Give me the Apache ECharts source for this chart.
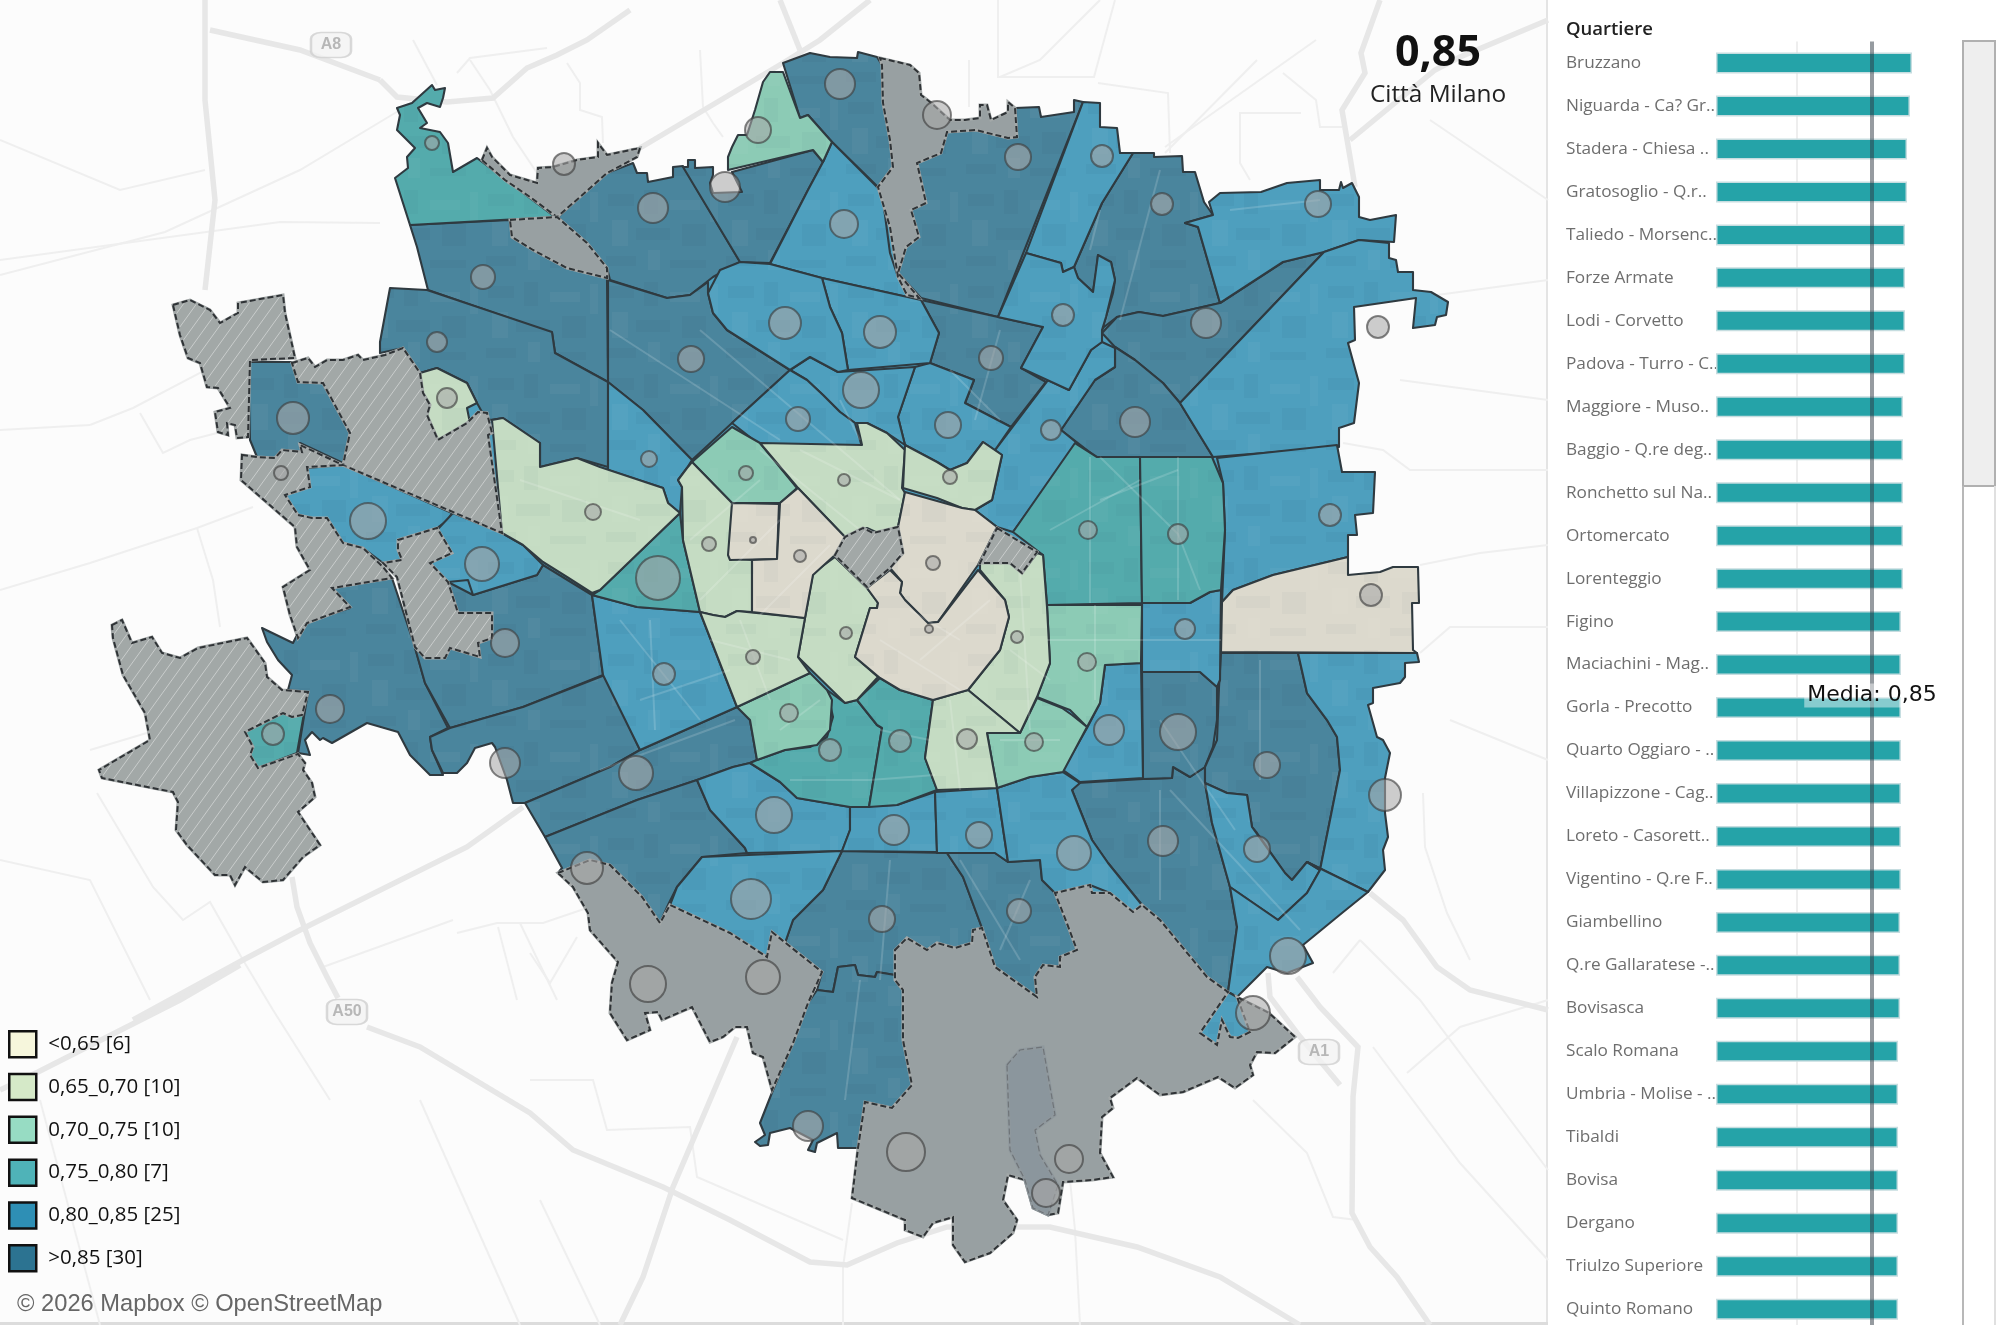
<!DOCTYPE html>
<html><head><meta charset="utf-8">
<style>html,body{margin:0;padding:0;background:#fff;overflow:hidden;width:2000px;height:1325px}#w{width:2000px;height:1325px;overflow:hidden}#c{width:2000px;height:1400px}</style>
<script src="https://cdn.jsdelivr.net/npm/echarts@6/dist/echarts.min.js"></script>
</head><body><div id="w"><div id="c"></div></div>
<script>
// ---------- bar panel data ----------
const quartieri=["Bruzzano","Niguarda - Ca? Gr..","Stadera - Chiesa ..","Gratosoglio - Q.r..","Taliedo - Morsenc..","Forze Armate","Lodi - Corvetto","Padova - Turro - C..","Maggiore - Muso..","Baggio - Q.re deg..","Ronchetto sul Na..","Ortomercato","Lorenteggio","Figino","Maciachini - Mag..","Gorla - Precotto","Quarto Oggiaro - ..","Villapizzone - Cag..","Loreto - Casorett..","Vigentino - Q.re F..","Giambellino","Q.re Gallaratese -..","Bovisasca","Scalo Romana","Umbria - Molise - ..","Tibaldi","Bovisa","Dergano","Triulzo Superiore","Quinto Romano"];
const valori=[1.068,1.057,1.041,1.041,1.030,1.030,1.030,1.030,1.019,1.019,1.019,1.019,1.019,1.008,1.008,1.008,1.008,1.008,1.008,1.008,1.003,1.003,1.003,0.992,0.992,0.992,0.992,0.992,0.992,0.992];
const media=0.85, griglia=0.436;
const legendLabels=["<0,65 [6]","0,65_0,70 [10]","0,70_0,75 [10]","0,75_0,80 [7]","0,80_0,85 [25]",">0,85 [30]"];
const legendColors=["#f6f6dc","#d5e9c8","#97dcc3","#4fb3b8","#2e8fb5","#2c7391"];
const mapColors=["#dcd9cd","#c5dcc3","#8ccbb5","#54abac","#4e9fbe","#4a859d"];

// ---------- map geometry (map coordinates) ----------
const cityBase=[[[560,230],[1000,150],[1270,270],[1330,450],[1320,870],[1050,960],[880,950],[620,850],[450,700],[400,500],[450,320]]];
const cls0=[
[[732,503],[779,504],[777,559],[730,560],[728,555]],
[[780,503],[798,488],[845,537],[835,555],[813,575],[805,618],[752,612],[752,560],[777,559]],
[[905,492],[962,508],[975,510],[997,527],[978,565],[938,622],[928,623],[905,600],[900,593],[902,582],[890,568],[903,553],[898,527]],
[[890,570],[902,582],[900,593],[905,600],[928,623],[938,622],[978,570],[1005,600],[1009,617],[1000,650],[968,690],[933,700],[900,690],[880,678],[855,657],[870,608],[877,608],[878,603],[867,588]],
[[1222,602],[1233,590],[1273,575],[1348,557],[1348,575],[1380,572],[1393,567],[1418,567],[1419,603],[1412,603],[1413,650],[1417,653],[1221,652]]
];
const cls1=[
[[492,420],[503,418],[540,443],[540,467],[577,458],[600,467],[663,488],[668,503],[680,513],[600,590],[592,593],[567,577],[543,562],[523,545],[502,533]],
[[420,373],[437,368],[467,383],[477,403],[467,408],[470,423],[438,440],[427,415],[430,405],[423,393]],
[[760,443],[862,445],[857,423],[867,423],[887,433],[905,450],[902,488],[905,493],[898,527],[878,533],[867,528],[845,537],[798,488]],
[[692,462],[732,503],[732,558],[752,560],[752,612],[737,611],[725,617],[713,615],[700,612],[683,540],[682,487],[678,480],[687,468]],
[[905,445],[937,462],[950,470],[967,463],[983,442],[1002,455],[992,500],[975,510],[962,508],[937,498],[903,488]],
[[835,557],[867,588],[878,603],[877,608],[870,608],[855,657],[878,677],[857,700],[845,703],[798,657],[813,573]],
[[980,570],[980,563],[1010,563],[1022,573],[1037,553],[1043,555],[1047,607],[1050,663],[1037,697],[1020,733],[968,690],[1000,650],[1009,617],[1005,600]],
[[700,612],[713,615],[725,617],[737,611],[805,618],[798,657],[810,673],[737,707]],
[[933,700],[968,690],[1020,733],[987,733],[997,788],[937,790],[925,758]]
];
const cls2=[
[[728,170],[728,157],[732,147],[738,135],[747,135],[755,110],[763,82],[770,72],[783,72],[800,118],[808,115],[832,142],[823,162],[813,150]],
[[692,462],[732,427],[760,443],[797,488],[780,503],[732,503]],
[[1047,605],[1142,605],[1141,663],[1105,665],[1100,703],[1087,727],[1070,710],[1062,707],[1037,697],[1050,663]],
[[810,673],[737,707],[750,720],[757,760],[785,750],[817,745],[830,730],[832,700],[827,690]],
[[987,733],[1020,733],[1037,698],[1062,708],[1072,715],[1087,727],[1063,772],[1030,777],[997,788]]
];
const cls3=[
[[397,108],[412,103],[432,85],[435,90],[445,88],[443,98],[440,107],[427,103],[418,108],[427,123],[420,128],[440,132],[448,143],[453,172],[477,158],[555,217],[410,225],[395,178],[408,168],[407,157],[415,148],[397,130],[400,115]],
[[680,513],[683,540],[700,612],[637,607],[592,595],[600,590]],
[[1075,443],[1097,457],[1140,457],[1142,603],[1047,605],[1043,555],[1013,532]],
[[1140,457],[1212,457],[1223,483],[1225,530],[1221,590],[1210,592],[1190,603],[1142,603]],
[[757,760],[785,750],[810,747],[827,737],[833,717],[827,690],[845,703],[857,700],[877,725],[882,728],[869,807],[850,807],[797,798],[780,782],[750,763]],
[[857,700],[880,678],[900,690],[933,700],[925,758],[937,790],[897,805],[869,807],[882,728],[877,725]],
[[245,732],[283,713],[292,717],[305,708],[297,753],[258,768],[250,755],[253,747]]
];
const cls4=[
[[832,142],[878,188],[883,200],[890,253],[898,277],[921,300],[822,278],[770,264],[808,190],[823,162]],
[[1083,102],[1100,103],[1100,127],[1117,128],[1120,153],[1133,153],[1102,203],[1074,267],[1063,272],[1061,263],[1026,253]],
[[1220,193],[1261,192],[1287,183],[1320,180],[1320,190],[1339,190],[1341,182],[1343,188],[1352,183],[1359,197],[1359,217],[1370,220],[1396,215],[1394,242],[1359,240],[1324,252],[1283,262],[1220,303],[1198,227],[1185,223],[1213,215],[1209,202]],
[[1324,252],[1359,240],[1389,243],[1389,258],[1396,260],[1398,272],[1413,272],[1413,290],[1431,292],[1448,302],[1446,315],[1437,317],[1435,325],[1413,328],[1416,298],[1354,307],[1355,340],[1348,343],[1359,383],[1354,423],[1339,428],[1339,447],[1213,457],[1180,403]],
[[1048,380],[1069,390],[1091,350],[1102,342],[1115,348],[1115,367],[1095,380],[1061,430],[1077,443],[1013,532],[997,527],[975,510],[992,500],[1002,455],[995,450]],
[[915,367],[930,363],[974,380],[965,403],[1011,427],[995,450],[983,442],[967,463],[950,470],[937,462],[905,445],[900,425],[898,417]],
[[1026,253],[1061,263],[1063,272],[1074,267],[1078,278],[1093,292],[1098,255],[1111,262],[1115,280],[1106,317],[1102,330],[1102,342],[1091,350],[1069,390],[1021,368],[1043,327],[998,317]],
[[822,278],[921,300],[939,333],[930,363],[848,370],[842,333],[830,307]],
[[790,370],[810,357],[838,372],[915,367],[898,417],[900,425],[905,445],[887,433],[867,423],[855,423],[840,412],[823,395],[807,380]],
[[740,262],[720,270],[708,293],[713,313],[727,330],[790,370],[810,357],[838,372],[848,370],[842,333],[830,307],[822,278],[770,264]],
[[790,370],[732,423],[760,445],[862,447],[855,423],[840,412],[823,395],[807,380]],
[[608,382],[643,410],[692,460],[687,468],[678,480],[682,487],[680,513],[668,503],[663,488],[608,470]],
[[592,595],[637,607],[700,612],[737,707],[640,750],[603,675]],
[[697,780],[733,767],[750,763],[780,782],[797,798],[850,807],[850,830],[842,851],[747,853],[745,848],[710,810]],
[[850,807],[897,805],[935,792],[937,852],[842,851],[850,830]],
[[935,792],[997,788],[1008,862],[995,853],[937,853]],
[[702,857],[842,851],[823,890],[793,920],[785,943],[772,932],[767,957],[730,933],[670,905],[677,887]],
[[997,788],[1030,777],[1063,772],[1080,783],[1072,790],[1092,840],[1108,863],[1142,905],[1133,912],[1110,893],[1090,885],[1055,893],[1042,880],[1040,860],[1008,862]],
[[1105,665],[1141,663],[1143,778],[1080,782],[1063,770],[1087,728],[1100,703]],
[[1142,603],[1190,603],[1210,592],[1221,590],[1220,680],[1217,687],[1200,672],[1142,672]],
[[1217,458],[1337,445],[1342,472],[1375,472],[1373,513],[1355,515],[1357,535],[1348,535],[1348,557],[1273,575],[1233,590],[1222,602],[1225,530],[1223,483]],
[[1298,653],[1417,653],[1419,662],[1405,663],[1405,677],[1400,683],[1373,688],[1373,703],[1368,705],[1377,737],[1383,740],[1390,753],[1385,778],[1385,813],[1388,837],[1383,850],[1385,870],[1368,892],[1307,862],[1320,870],[1338,780],[1340,770],[1337,737],[1327,720],[1307,693]],
[[1205,783],[1227,793],[1247,795],[1252,827],[1285,873],[1292,880],[1307,862],[1320,870],[1307,893],[1278,920],[1230,887],[1212,823]],
[[1230,887],[1278,920],[1307,893],[1320,870],[1307,862],[1368,892],[1342,913],[1303,945],[1313,963],[1287,973],[1267,967],[1237,997],[1228,992],[1237,927]],
[[1228,992],[1237,997],[1269,1013],[1250,1032],[1238,1038],[1230,1037],[1222,1020],[1217,1045],[1200,1033]],
[[307,468],[343,465],[452,513],[448,520],[437,528],[400,540],[398,550],[402,560],[383,563],[363,548],[343,543],[327,518],[312,518],[298,515],[285,495],[310,487]],
[[453,513],[502,533],[523,545],[543,565],[537,575],[473,595],[468,580],[448,582],[430,563],[452,553],[437,530]]
];
const cls5=[
[[558,217],[580,197],[607,173],[633,163],[637,173],[647,173],[648,182],[673,177],[673,167],[683,166],[740,262],[713,277],[690,295],[667,298],[610,280],[607,268]],
[[683,167],[688,167],[688,160],[695,160],[695,168],[713,167],[713,175],[710,183],[713,193],[742,192],[732,172],[813,150],[823,162],[808,190],[770,263],[740,262]],
[[783,63],[810,53],[830,57],[857,58],[858,52],[877,57],[882,65],[883,103],[890,140],[893,167],[878,187],[832,142],[808,115],[800,118]],
[[947,132],[976,130],[1008,138],[1017,137],[1015,108],[1039,107],[1041,117],[1074,112],[1074,100],[1083,102],[998,317],[921,298],[898,273],[906,247],[919,237],[911,210],[926,203],[917,163],[941,153]],
[[1133,153],[1154,153],[1154,157],[1182,156],[1183,172],[1195,172],[1204,202],[1213,215],[1185,223],[1198,227],[1220,303],[1163,316],[1139,312],[1117,317],[1104,327],[1102,330],[1113,293],[1115,280],[1111,262],[1102,262],[1098,255],[1096,273],[1093,292],[1078,278],[1074,267],[1102,203]],
[[1220,303],[1283,262],[1324,252],[1180,403],[1163,383],[1135,360],[1115,347],[1102,333],[1117,317],[1139,312],[1163,316]],
[[1115,367],[1095,380],[1061,430],[1096,457],[1213,457],[1180,403],[1163,383],[1135,360],[1115,347]],
[[921,300],[998,317],[1043,327],[1021,368],[1046,382],[1011,427],[965,403],[974,380],[930,363],[939,333]],
[[608,280],[667,298],[690,295],[708,282],[708,293],[713,313],[727,330],[790,370],[732,423],[692,460],[643,410],[608,382]],
[[410,225],[510,220],[512,237],[533,250],[567,268],[607,278],[608,382],[555,353],[552,333],[428,290],[417,247]],
[[390,288],[427,290],[552,332],[555,353],[608,382],[608,467],[577,458],[540,467],[540,443],[503,418],[490,420],[482,412],[477,403],[467,383],[437,368],[420,373],[403,348],[380,353],[380,342]],
[[248,362],[292,362],[298,382],[323,383],[350,433],[343,463],[300,443],[302,452],[282,450],[275,458],[257,457],[250,440]],
[[262,628],[293,643],[303,623],[350,608],[332,588],[392,578],[415,647],[425,683],[448,728],[430,737],[432,750],[443,775],[430,775],[410,755],[398,732],[367,723],[332,743],[323,738],[320,740],[312,732],[305,740],[310,755],[298,753],[308,692],[288,690],[292,675],[278,660],[267,642]],
[[448,582],[473,595],[537,575],[543,565],[592,595],[603,675],[523,707],[450,728],[425,683],[415,648],[425,658],[445,658],[450,648],[480,657],[478,643],[492,638],[492,613],[458,613]],
[[430,737],[450,728],[523,707],[605,675],[640,750],[610,767],[525,803],[513,803],[507,780],[495,747],[492,743],[475,748],[467,763],[457,773],[443,773],[432,750]],
[[525,803],[610,767],[640,750],[737,707],[750,720],[757,760],[750,763],[733,767],[697,780],[637,800],[545,837]],
[[545,837],[637,800],[697,780],[710,810],[745,848],[747,853],[702,857],[677,887],[668,905],[660,923],[642,897],[610,865],[590,860],[558,873],[562,868]],
[[842,851],[947,853],[963,877],[982,928],[973,930],[972,943],[955,948],[937,943],[927,950],[907,938],[895,950],[895,975],[877,972],[875,977],[858,975],[855,965],[838,967],[833,992],[817,990],[822,972],[785,943],[793,920],[823,890]],
[[817,990],[833,992],[838,967],[855,965],[858,975],[875,977],[877,972],[895,975],[897,983],[903,990],[903,1040],[912,1085],[892,1108],[865,1102],[858,1148],[838,1148],[837,1133],[817,1143],[815,1152],[808,1150],[813,1140],[790,1128],[770,1133],[768,1145],[760,1146],[755,1142],[765,1135],[760,1123],[773,1090],[793,1043],[808,1003]],
[[947,853],[995,853],[1008,862],[1040,860],[1042,880],[1055,893],[1063,913],[1077,950],[1060,957],[1060,967],[1043,965],[1035,977],[1037,997],[995,967],[982,928],[963,877]],
[[1072,790],[1078,783],[1143,779],[1172,778],[1173,767],[1190,777],[1205,767],[1205,783],[1212,823],[1230,887],[1237,927],[1228,992],[1207,977],[1160,920],[1142,905],[1108,863],[1092,840]],
[[1142,672],[1200,672],[1217,687],[1217,720],[1213,747],[1205,767],[1190,777],[1173,767],[1172,778],[1143,779]],
[[1221,653],[1298,653],[1307,693],[1327,720],[1337,737],[1340,770],[1338,780],[1320,870],[1307,862],[1292,880],[1285,873],[1257,833],[1252,827],[1247,795],[1227,793],[1205,783],[1205,767],[1217,740],[1219,687]]
];
const grayHatched=[
[[173,305],[190,300],[210,310],[220,323],[238,313],[238,303],[283,295],[285,313],[295,358],[250,360],[248,437],[237,438],[235,425],[227,423],[228,435],[218,432],[215,412],[230,408],[218,388],[207,387],[200,363],[188,358],[180,335]],
[[292,363],[308,358],[315,367],[327,360],[343,360],[358,355],[363,360],[385,355],[403,348],[420,373],[423,393],[430,405],[427,415],[438,440],[467,423],[478,412],[487,413],[492,433],[488,435],[502,533],[343,465],[350,433],[323,383],[298,382]],
[[242,455],[257,457],[275,458],[282,450],[302,452],[300,445],[343,465],[307,467],[310,487],[285,495],[298,515],[312,518],[327,518],[343,543],[363,548],[383,567],[392,578],[332,588],[350,607],[307,623],[298,638],[290,615],[283,587],[310,570],[297,547],[295,527],[241,480]],
[[398,540],[437,528],[452,553],[430,563],[448,582],[458,613],[492,613],[492,638],[478,643],[480,657],[450,648],[445,658],[425,658],[415,647],[397,577],[383,563],[402,560],[398,550]],
[[112,625],[122,620],[132,643],[152,637],[162,653],[180,658],[198,648],[247,638],[265,663],[267,677],[282,690],[308,692],[302,715],[292,717],[283,713],[245,732],[253,747],[250,755],[258,768],[298,754],[305,763],[303,770],[312,783],[315,797],[298,812],[320,845],[303,857],[283,880],[263,882],[245,867],[235,885],[230,875],[215,875],[187,845],[176,830],[178,802],[173,792],[102,778],[99,770],[150,740],[145,713],[123,675],[113,638]],
[[835,555],[845,537],[863,528],[873,533],[898,527],[903,553],[890,568],[867,587]],
[[997,528],[1037,552],[1022,573],[1010,563],[980,563]]
];
const graySolid=[
[[482,160],[487,148],[492,157],[510,175],[537,183],[538,168],[553,167],[577,160],[598,157],[598,143],[607,155],[640,148],[637,157],[607,173],[580,197],[557,217],[530,197],[505,180]],
[[510,220],[557,217],[587,243],[607,268],[607,278],[567,268],[533,250],[512,237]],
[[880,58],[910,65],[919,73],[921,95],[930,102],[950,120],[965,120],[980,118],[980,105],[987,105],[991,120],[1008,112],[1008,102],[1015,108],[1017,137],[1008,138],[976,130],[947,132],[941,153],[917,163],[926,203],[911,210],[919,237],[906,247],[898,273],[919,298],[907,295],[898,277],[890,227],[878,187],[893,167],[890,140],[883,103],[882,65]],
[[558,873],[590,860],[610,865],[642,897],[660,923],[670,905],[730,933],[767,957],[772,932],[822,972],[808,1003],[793,1043],[772,1090],[763,1057],[753,1053],[747,1027],[735,1027],[723,1037],[710,1042],[692,1007],[662,1020],[658,1012],[645,1013],[650,1030],[627,1040],[610,1013],[612,983],[618,962],[590,930],[588,913],[573,887]],
[[895,950],[907,938],[927,950],[937,943],[955,948],[972,943],[973,930],[982,928],[995,967],[1037,997],[1035,977],[1043,965],[1060,967],[1060,957],[1077,950],[1063,913],[1055,893],[1090,885],[1092,893],[1110,893],[1133,912],[1142,905],[1160,920],[1207,977],[1228,992],[1200,1033],[1217,1045],[1222,1020],[1230,1037],[1238,1038],[1250,1032],[1237,997],[1269,1013],[1295,1037],[1275,1053],[1257,1052],[1250,1065],[1253,1075],[1235,1088],[1218,1077],[1183,1092],[1160,1095],[1137,1078],[1110,1098],[1113,1108],[1102,1117],[1100,1153],[1113,1177],[1092,1180],[1063,1182],[1058,1213],[1048,1215],[1033,1208],[1025,1180],[1008,1175],[1003,1200],[1017,1220],[1013,1233],[990,1253],[965,1262],[953,1245],[953,1217],[933,1223],[923,1237],[905,1230],[905,1220],[852,1198],[858,1148],[865,1102],[892,1108],[912,1085],[903,1040],[903,990],[895,980]]
];
const grayInset=[[[1007,1065],[1020,1050],[1043,1047],[1055,1115],[1035,1130],[1040,1155],[1058,1185],[1048,1215],[1033,1208],[1025,1180],[1010,1150]]];
const roadsMajor=[
[[380,80],[397,97],[447,102],[493,98],[527,68],[557,55],[587,40],[630,10]],
[[210,30],[300,50],[380,80]],
[[205,0],[205,100],[215,200],[205,290]],
[[640,148],[783,63],[820,40],[870,0]],
[[780,0],[800,50]],
[[1380,0],[1361,53],[1365,73],[1342,110],[1350,157],[1355,187]],
[[1350,140],[1390,107],[1435,70],[1460,57],[1548,20]],
[[292,877],[297,907],[310,943],[327,977],[338,998]],
[[367,1027],[420,1047],[530,1113],[573,1150],[663,1187],[730,1220],[810,1262],[847,1265],[897,1243],[947,1227],[1050,1227],[1137,1247],[1220,1277],[1300,1325]],
[[737,1037],[673,1187],[643,1277],[620,1325]],
[[1268,973],[1270,997],[1297,1033],[1340,1085]],
[[1297,977],[1320,1007],[1358,1047],[1353,1097],[1352,1213],[1370,1247],[1397,1277],[1430,1325]],
[[1370,893],[1403,920],[1437,967],[1470,990],[1548,1010]],
[[133,1020],[243,960],[300,930],[467,847],[523,807]],
[[0,1090],[38,1072],[180,1000],[240,965]]
];
const roadsMinor=[
[[0,275],[165,232],[300,170],[400,110]],[[90,425],[133,408],[200,373],[255,340]],
[[0,140],[120,190],[205,170]],[[413,40],[437,85]],[[470,60],[490,90],[513,137],[537,173]],[[457,73],[470,58],[547,48]],
[[567,63],[580,83],[580,110],[602,117],[603,143]],[[700,50],[703,107],[713,123],[723,137]],[[998,0],[998,77],[1094,77],[1115,0]],
[[969,60],[969,107]],[[1098,83],[1168,93],[1170,153]],[[1316,40],[1165,147]],[[1257,60],[1165,153]],[[1239,113],[1301,113]],[[1240,113],[1240,163],[1250,180]],
[[1283,73],[1316,100],[1320,127],[1342,127]],[[1343,443],[1383,450],[1410,470],[1548,470]],[[1420,653],[1450,627],[1548,627]],[[1420,565],[1480,553],[1548,545]],
[[1423,793],[1425,847],[1447,913],[1470,960]],[[1360,940],[1333,973]],[[1360,940],[1420,1000],[1548,1170]],[[1253,1100],[1307,1153],[1333,1217],[1357,1220]],
[[1407,1073],[1460,1027],[1548,1000]],[[1373,1047],[1460,1163],[1548,1260]],[[1075,1230],[1080,1325]],[[1070,1180],[1075,1230]],
[[90,750],[150,732]],[[97,793],[153,887],[183,920],[210,902],[243,960],[273,1010],[330,1100]],[[457,933],[497,923],[543,923],[590,907]],[[323,967],[453,920]],
[[498,927],[517,1000]],[[520,923],[557,1000]],[[0,590],[90,563],[197,528],[253,507]],[[197,528],[213,580],[220,627]],[[140,413],[163,453],[190,440],[217,433]],
[[530,1080],[593,1080],[607,1130],[690,1127],[697,1177],[843,1240]],[[530,953],[550,983],[577,937]],[[843,1325],[843,1267],[852,1203]],[[0,430],[90,425]],[[380,223],[280,222],[0,260]],
[[1400,300],[1548,280]],[[1400,380],[1548,400]],[[1430,120],[1548,200]],[[1450,720],[1548,760]],[[0,860],[90,880],[150,1000]],[[40,1100],[100,1325]],[[420,1100],[520,1325]],[[540,1200],[600,1325]],[[1100,0],[1040,60],[1000,77]]
];
const streets=[
[[1100,457],[1178,534],[1200,590]],[[1100,500],[1178,470]],[[1178,457],[1178,600]],[[1050,530],[1140,480]],[[1090,457],[1090,603]],[[1142,640],[1221,640]],
[[1047,640],[1142,640]],[[1095,605],[1095,700]],[[690,540],[760,480]],[[700,600],[780,520]],[[760,615],[830,545]],[[760,450],[860,530]],[[800,450],[900,500]],[[710,640],[790,660]],
[[740,620],[770,700]],[[910,610],[960,640]],[[920,660],[990,600]],[[880,640],[960,690]],[[1020,570],[1030,730]],[[1010,650],[1050,680]],[[950,700],[960,790]],[[1000,740],[1060,740]],
[[780,730],[820,700]],[[880,730],[930,740]],[[790,780],[870,780]],[[870,780],[935,775]],[[600,770],[735,720]],[[620,620],[700,720]],[[650,620],[655,730]],[[640,700],[730,670]],
[[520,480],[640,520]],[[1160,720],[1235,830]],[[1170,790],[1300,930]],[[1160,790],[1160,900]],[[1260,660],[1260,780]],[[700,330],[900,500]],[[610,330],[780,440]],[[960,860],[1020,960]],
[[1000,950],[1030,880]],[[890,860],[880,980]],[[860,980],[845,1100]],[[1100,210],[1090,250]],[[1230,210],[1320,200]],[[1160,170],[1120,320]],[[1000,330],[975,420]],[[950,370],[1000,420]],[[840,400],[860,440]]
];
const bubbles=[
[653,208,15],[725,187,15],[840,84,15],[758,130,13],[564,164,11],[432,143,7],[483,277,12],[437,342,10],[447,398,10],[691,359,13],[785,323,16],[844,224,14],[880,332,16],[861,390,18],[798,419,12],
[937,115,14],[1018,157,13],[1102,156,11],[1162,204,11],[1318,204,13],[1378,327,11],[1063,315,11],[991,358,12],[1206,323,15],[1135,422,15],[948,425,13],[1051,430,10],
[293,418,16],[281,473,7],[593,512,8],[368,521,18],[482,564,17],[505,643,14],[330,709,14],[273,734,11],[505,763,15],[587,868,16],
[774,815,18],[894,830,15],[979,835,13],[751,899,20],[882,919,13],[1019,911,12],[648,984,18],[763,977,17],[906,1152,19],[808,1126,15],
[1069,1159,14],[1046,1193,14],[1288,956,18],[1253,1013,17],[1257,849,13],[1163,841,15],[1074,853,17],[1385,795,16],
[1330,515,11],[1371,595,11],[1088,530,9],[1178,534,10],[1185,629,10],[1087,662,9],[1109,730,15],[1178,732,18],[1267,765,13],
[649,459,8],[746,473,7],[844,480,6],[950,477,7],[709,544,7],[753,540,3],[800,556,6],[933,563,7],[658,578,22],[929,629,4],[846,633,6],[1017,637,6],[664,674,11],[753,657,7],[789,713,9],[830,750,11],[900,741,11],[967,739,10],[1034,742,9],[636,773,17]
];
const shields=[[331,45,"A8"],[347,1012,"A50"],[1319,1052,"A1"]];
// soft basemap blocks shown through the fills: [x,y,w,h,dark?]
const basemapBlocks=[[8,10,26,12,1],[44,6,14,24,1],[70,16,30,10,0],[12,36,16,26,0],[36,44,34,12,1],[82,40,24,22,1],[6,72,30,10,1],[48,66,12,20,0],[70,76,36,8,1],[110,8,8,30,0]];

// ---------- helpers ----------
function hatch(base){
  const w=13,h=18,c=document.createElement('canvas');c.width=w;c.height=h;
  const g=c.getContext('2d');g.fillStyle=base;g.fillRect(0,0,w,h);
  g.strokeStyle='rgba(255,255,255,.42)';g.lineWidth=1;
  g.beginPath();g.moveTo(0,h);g.lineTo(w,0);g.moveTo(-w,h);g.lineTo(0,0);g.moveTo(w,h);g.lineTo(2*w,0);g.stroke();
  return {type:'pattern',image:c,repeat:'repeat'};
}
function mottle(base,alpha){
  const c=document.createElement('canvas');c.width=120;c.height=92;
  const g=c.getContext('2d');g.fillStyle=base;g.fillRect(0,0,120,92);
  basemapBlocks.forEach(b=>{g.fillStyle=b[4]?'rgba(30,60,80,'+alpha+')':'rgba(255,255,255,'+alpha+')';g.fillRect(b[0],b[1],b[2],b[3]);});
  return {type:'pattern',image:c,repeat:'repeat'};
}
function regionSeries(name,regions,fill,z,mode){
  return {
    type:'custom',name,coordinateSystem:'cartesian2d',xAxisIndex:0,yAxisIndex:0,z,silent:true,clip:true,
    data:regions.map((r,i)=>[i]),
    renderItem(params,api){
      const pts=regions[params.dataIndex].map(p=>api.coord(p));
      if(mode==='base') return {type:'polygon',shape:{points:pts},style:{fill:fill,stroke:'none'}};
      if(mode==='dash'||mode==='faint'){
        return {type:'group',children:[
          {type:'polygon',shape:{points:pts},style:{fill:fill,stroke:mode==='faint'?'#8f989d':'#a3a8a8',lineWidth:3}},
          {type:'polygon',shape:{points:pts},style:{fill:'none',stroke:mode==='faint'?'#6f7478':'#2f3336',lineWidth:mode==='faint'?1.2:2,lineDash:[6,3]}}
        ]};
      }
      return {type:'polygon',shape:{points:pts},style:{fill:fill,stroke:'#2f3a40',lineWidth:2.1,lineJoin:'round'}};
    }
  };
}
const rowH=42.97;
const chart=echarts.init(document.getElementById('c'),null,{renderer:'canvas',width:2000,height:1400});
const mapFont='"Open Sans"';
chart.setOption({
  animation:false,
  backgroundColor:'#ffffff',
  title:[
    {text:'0,85',left:1433,top:27,textAlign:'center',textStyle:{fontFamily:mapFont,fontWeight:700,fontSize:43,color:'#111'}},
    {text:'Città Milano',left:1433,top:78,textAlign:'center',textStyle:{fontFamily:mapFont,fontWeight:400,fontSize:24.4,color:'#222'}},
    {text:'Quartiere',left:1561,top:15,textStyle:{fontFamily:mapFont,fontWeight:600,fontSize:18.5,color:'#222'}},
    {text:'© 2026 Mapbox © OpenStreetMap',left:12,top:1287,textStyle:{fontFamily:'"Liberation Sans"',fontWeight:400,fontSize:23.7,color:'#666'}}
  ],
  legend:{
    left:8,top:1030,padding:0,orient:'vertical',itemWidth:27,itemHeight:26,itemGap:14.3,align:'left',selectedMode:false,
    textStyle:{fontFamily:mapFont,fontSize:20.5,lineHeight:26,color:'#111',padding:[0,0,0,7]},
    data:legendLabels.map((n,i)=>({name:n,icon:'rect',itemStyle:{color:legendColors[i],borderColor:'#111',borderWidth:2.5}}))
  },
  grid:[
    {left:0,top:0,width:1548,height:1325,show:true,backgroundColor:'#fcfcfc',borderWidth:0},
    {left:1716,top:63-rowH/2,width:228,height:rowH*30,show:false}
  ],
  xAxis:[
    {gridIndex:0,type:'value',min:0,max:1548,show:false},
    {gridIndex:1,type:'value',min:0,max:228/183.5,show:false,splitLine:{show:false}}
  ],
  yAxis:[
    {gridIndex:0,type:'value',min:0,max:1325,inverse:true,show:false},
    {gridIndex:1,type:'category',inverse:true,data:quartieri,axisLine:{show:false},axisTick:{show:false},
     axisLabel:{align:'left',margin:150,fontFamily:mapFont,fontSize:17.2,color:'#6e6e6e',interval:0,padding:[3,0,0,0]}}
  ],
  graphic:[
    {type:'rect',shape:{x:1546,y:0,width:2,height:1325},style:{fill:'#e4e4e4'},silent:true},
    {type:'rect',shape:{x:0,y:1322,width:1548,height:3},style:{fill:'#dcdcdc'},silent:true},
    {type:'rect',shape:{x:1963,y:41,width:32,height:445},style:{fill:'#eeeeee',stroke:'#b0b0b0',lineWidth:2},silent:true},
    {type:'rect',shape:{x:1962,y:486,width:2,height:900},style:{fill:'#b8b8b8'},silent:true},
    {type:'rect',shape:{x:1994,y:486,width:2,height:900},style:{fill:'#e0e0e0'},silent:true}
  ],
  series:[
    {type:'lines',coordinateSystem:'cartesian2d',xAxisIndex:0,yAxisIndex:0,polyline:true,silent:true,z:1,
     lineStyle:{color:'#efefef',width:2,opacity:1},data:roadsMinor.map(c=>({coords:c}))},
    {type:'lines',coordinateSystem:'cartesian2d',xAxisIndex:0,yAxisIndex:0,polyline:true,silent:true,z:1,
     lineStyle:{color:'#e7e7e7',width:5.5,opacity:1},data:roadsMajor.map(c=>({coords:c}))},
    {type:'scatter',xAxisIndex:0,yAxisIndex:0,silent:true,z:1,symbol:'roundRect',symbolSize:[40,25],
     itemStyle:{color:'#f3f3f3',borderColor:'#cfcfcf',borderWidth:2},
     label:{show:true,position:'inside',formatter:p=>p.value[2],fontFamily:'"Liberation Sans"',fontWeight:700,fontSize:16,color:'#a8a8a8'},
     data:shields},
    regionSeries('base',cityBase,mapColors[4],2,'base'),
    regionSeries(legendLabels[5],cls5,mottle(mapColors[5],.04),2),
    regionSeries(legendLabels[4],cls4,mottle(mapColors[4],.04),3),
    regionSeries(legendLabels[3],cls3,mottle(mapColors[3],.03),3),
    regionSeries(legendLabels[2],cls2,mottle(mapColors[2],.03),3),
    regionSeries(legendLabels[1],cls1,mottle(mapColors[1],.03),3),
    regionSeries(legendLabels[0],cls0,mottle(mapColors[0],.03),3),
    {type:'lines',coordinateSystem:'cartesian2d',xAxisIndex:0,yAxisIndex:0,polyline:true,silent:true,z:4,
     lineStyle:{color:'#ffffff',width:2,opacity:.16},data:streets.map(c=>({coords:c}))},
    regionSeries('grigio',graySolid,'#98a0a2',5,'dash'),
    regionSeries('tratteggio',grayHatched,hatch('#a2a8a7'),5,'dash'),
    regionSeries('inserto',grayInset,'#8b969d',6,'faint'),
    {type:'scatter',xAxisIndex:0,yAxisIndex:0,silent:true,z:7,symbol:'circle',
     symbolSize:v=>v[2]*2,
     itemStyle:{color:'rgba(168,168,168,.72)',borderColor:'rgba(62,62,62,.8)',borderWidth:2},
     data:bubbles},
    {type:'bar',name:'griglia',xAxisIndex:1,yAxisIndex:1,silent:true,data:[],z:1,
     markLine:{silent:true,z:1,symbol:'none',animation:false,label:{show:false},
       data:[{xAxis:griglia}],lineStyle:{color:'#eeeeee',width:2,type:'solid'}}},
    {type:'bar',name:'Quartiere',xAxisIndex:1,yAxisIndex:1,silent:true,barWidth:21,z:2,data:valori,
     itemStyle:{color:'#25a3a8',borderColor:'#c6dde0',borderWidth:1.5},
     markLine:{silent:true,z:3,symbol:'none',animation:false,label:{show:false},
       data:[{xAxis:media}],lineStyle:{color:'rgba(45,55,65,.5)',width:4,type:'solid'}},
     markPoint:{silent:true,z:4,symbol:'rect',symbolSize:0,animation:false,
       data:[{coord:[media,quartieri[15]],value:'Media: 0,85'}],
       label:{show:true,position:'inside',offset:[0,-12],formatter:'Media: 0,85',fontFamily:'"DejaVu Sans"',fontSize:22,color:'#111',
              backgroundColor:'rgba(255,255,255,.45)',padding:[1,3,1,3]}}}
  ]
});
</script></body></html>
